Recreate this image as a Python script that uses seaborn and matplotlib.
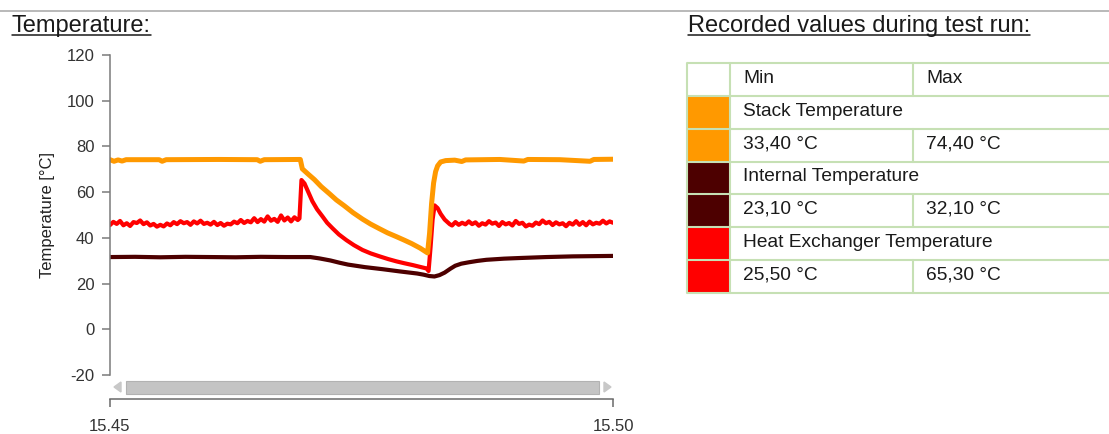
import numpy as np
import pandas as pd
import matplotlib.pyplot as plt
import seaborn as sns
from matplotlib.patches import Rectangle, Polygon
from matplotlib.lines import Line2D

# ─────────────────────────────────────────────
#  Data (time = seconds after 15:45)
# ─────────────────────────────────────────────

stack_time = [0, 2.4, 4.8, 7.2, 9.6, 29.3, 31.1, 33.5, 65.1, 87.8, 89.6, 92.0,
              113.5, 114.7, 118.0, 121.9, 126.0, 130.9, 135.0, 139.8, 145.0, 150.6, 155.5,
              160.7, 165.5, 170.9, 175.5, 179.9, 185.0, 189.4,
              190.6, 191.8, 193.0, 194.2, 195.4, 197.2, 200.2, 205.6, 209.8, 212.1,
              232.5, 246.8, 249.2, 268.3, 286.3, 288.6, 300]
stack_temp = [74.2, 73.5, 74.1, 73.6, 74.2, 74.2, 73.5, 74.2, 74.3, 74.2, 73.5, 74.2,
              74.3, 70.2, 68.0, 65.5, 62.4, 59.3, 56.6, 54.0, 51.0, 48.2, 46.0,
              44.0, 42.2, 40.5, 39.0, 37.5, 35.5, 33.4,
              42.0, 55.0, 64.0, 69.0, 71.5, 73.2, 73.8, 74.0, 73.4, 74.1,
              74.3, 73.6, 74.3, 74.2, 73.5, 74.3, 74.4]

internal_time = [0, 15, 30, 45, 60, 75, 90, 105, 119.5, 125.0, 131.5, 137.0, 142.0, 152.0,
                 162.5, 173.0, 183.2, 187.0, 190.5, 193.5, 196.5, 199.6, 203.0, 205.9,
                 209.5, 213.9, 219.0, 224.5, 235.0, 245.0, 260.0, 276.0, 300]
internal_temp = [31.6, 31.7, 31.5, 31.7, 31.6, 31.5, 31.7, 31.6, 31.6, 31.0, 30.1, 29.1, 28.3, 27.2,
                 26.3, 25.3, 24.4, 23.9, 23.3, 23.1, 23.7, 24.8, 26.5, 27.8,
                 28.7, 29.3, 29.9, 30.4, 30.9, 31.2, 31.6, 31.9, 32.1]

hx_time = [0, 2, 4, 6, 8, 10, 12, 14, 16, 18, 20, 22, 24, 26, 28, 30, 32, 34, 36, 38,
           40, 42, 44, 46, 48, 50, 52, 54, 56, 58, 60, 62, 64, 66, 68, 70, 72, 74, 76, 78,
           80, 82, 84, 86, 88, 90, 92, 94, 96, 98, 100, 102, 104, 106, 108, 110, 112,
           113.0, 114.2, 116.0, 118.0, 120.7, 123.5, 126.7, 129.5, 132.7, 136.5, 141.0,
           145.5, 150.6, 155.5, 160.8, 166.0, 170.9, 175.5, 180.5, 185.0, 188.8, 190.0,
           191.2, 192.4, 193.6, 195.4, 197.2, 199.6, 202.6,
           204, 206, 208, 210, 212, 214, 216, 218, 220, 222, 224, 226, 228, 230, 232,
           234, 236, 238, 240, 242, 244, 246, 248, 250, 252, 254, 256, 258, 260, 262,
           264, 266, 268, 270, 272, 274, 276, 278, 280, 282, 284, 286, 288, 290, 292,
           294, 296, 298, 300]
hx_temp = [45.6, 47.0, 46.1, 47.4, 45.5, 46.4, 45.2, 46.9, 46.5, 47.6,
           46.0, 46.8, 45.4, 46.1, 44.9, 45.7, 45.0, 46.3, 45.5, 46.9,
           46.0, 47.3, 46.4, 46.9, 45.7, 47.2, 46.3, 47.5, 46.1, 46.6,
           45.8, 47.0, 45.6, 46.5, 45.3, 46.2, 45.9, 47.1, 46.4, 47.8,
           46.5, 47.4, 46.8, 48.6, 46.9, 48.2, 47.1, 49.4, 47.5, 48.3,
           47.0, 49.8, 47.6, 48.9, 47.2, 49.0, 47.8,
           48.5, 65.3, 63.8, 60.5, 56.0, 52.5, 49.4, 46.6, 44.2, 41.5, 39.0,
           36.8, 34.7, 33.2, 31.9, 30.7, 29.7, 28.9, 28.1, 27.3, 26.6, 25.5,
           36.0, 48.0, 54.2, 53.0, 50.5, 48.0, 46.0,
           45.4, 46.9, 45.7, 46.6, 45.9, 47.2, 46.0, 46.8, 45.3, 46.4,
           45.8, 47.3, 46.2, 46.7, 45.2, 46.9, 45.9, 46.5, 45.4, 47.4,
           46.1, 46.6, 45.0, 45.8, 45.3, 46.7, 46.0, 47.6, 46.4, 47.0,
           45.6, 46.8, 45.9, 46.4, 45.1, 46.6, 45.8, 47.3, 45.7, 46.9,
           45.5, 47.1, 45.9, 46.6, 46.2, 47.5, 46.3, 47.2, 46.6]

sensor_names  = ["Stack Temperature", "Internal Temperature", "Heat Exchanger Temperature"]
sensor_colors = ["#FF9900", "#4D0000", "#FF0000"]
recorded_min  = [33.40, 23.10, 25.50]
recorded_max  = [74.40, 32.10, 65.30]

y_ticks       = [-20, 0, 20, 40, 60, 80, 100, 120]
x_tick_pos    = [0, 300]
x_tick_labels = ["15.45", "15.50"]

# ─────────────────────────────────────────────
#  Figure
# ─────────────────────────────────────────────

sns.set_theme(style="white")
plt.rcParams["font.family"] = ["Liberation Sans", "DejaVu Sans"]
plt.rcParams["axes.unicode_minus"] = False

W, H = 1109, 434
fig = plt.figure(figsize=(W / 100, H / 100), dpi=100)

def fx(px):
    return px / W

def fy(py):
    return 1 - py / H

frames = [pd.DataFrame({"time": t, "temp": v, "sensor": n})
          for t, v, n in [(stack_time, stack_temp, sensor_names[0]),
                          (internal_time, internal_temp, sensor_names[1]),
                          (hx_time, hx_temp, sensor_names[2])]]
df = pd.concat(frames, ignore_index=True)
palette = dict(zip(sensor_names, sensor_colors))
widths  = {sensor_names[0]: 3.6, sensor_names[1]: 3.0, sensor_names[2]: 3.0}

# ── main line chart ─────────────────────────────
ax = fig.add_axes([fx(110), fy(375), fx(503), 320 / H])
for name in [sensor_names[1], sensor_names[2], sensor_names[0]]:
    sns.lineplot(data=df[df["sensor"] == name], x="time", y="temp",
                 color=palette[name], linewidth=widths[name],
                 estimator=None, legend=False, ax=ax)

ax.set_xlim(0, 300)
ax.set_ylim(-20, 120)
ax.set_yticks(y_ticks)
ax.set_xticks([])
ax.set_xlabel("")
sns.despine(ax=ax, top=True, right=True, bottom=True)
ax.spines["left"].set_color("#7a7a7a")
ax.spines["left"].set_linewidth(1.1)
ax.tick_params(axis="y", direction="out", left=True, length=5.8, width=1.1,
               color="#7a7a7a", labelsize=12, labelcolor="#333333", pad=5.5)
ax.set_ylabel("Temperature [°C]", fontsize=12, color="#222222")
ax.yaxis.set_label_coords(-0.109, 0.5)

# ── scrollbar ───────────────────────────────────
sa = fig.add_axes([fx(110), fy(397), fx(503), 20 / H])
sa.set_xlim(110, 613)
sa.set_ylim(397, 377)
sa.axis("off")
sa.add_patch(Rectangle((126, 380.5), 473, 13.5, facecolor="#c4c4c4", edgecolor="#b2b2b2", lw=0.8))
sa.add_patch(Polygon([(114, 387), (121, 382), (121, 392)], closed=True, color="#c8c8c8"))
sa.add_patch(Polygon([(604, 382), (611, 387), (604, 392)], closed=True, color="#c8c8c8"))

# ── x axis bracket ──────────────────────────────
xa = fig.add_axes([fx(110), fy(399), fx(503), 0.0001])
xa.set_facecolor("none")
xa.set_xlim(0, 300)
xa.set_xticks(x_tick_pos)
xa.set_xticklabels(x_tick_labels)
xa.set_yticks([])
for side in ["top", "left", "right"]:
    xa.spines[side].set_visible(False)
xa.spines["bottom"].set_color("#6a6a6a")
xa.spines["bottom"].set_linewidth(1.1)
xa.tick_params(axis="x", direction="out", bottom=True, length=5.8, width=1.1,
               color="#6a6a6a", labelsize=12, labelcolor="#333333", pad=8.5)

# ── table of recorded values ────────────────────
ta = fig.add_axes([fx(680), fy(300), fx(429), 245 / H])
ta.set_xlim(680, 1109)
ta.set_ylim(300, 55)
ta.axis("off")

row_edges = [62.7, 96, 129, 161.7, 194, 227, 260, 292.7]
grid_col  = "#c6e0b4"

for i, (name, color) in enumerate(zip(sensor_names, sensor_colors)):
    for r in (1 + 2 * i, 2 + 2 * i):
        top, bot = row_edges[r], row_edges[r + 1]
        ta.add_patch(Rectangle((688, top + 1), 41.5, bot - top - 2,
                               facecolor=color, edgecolor="none"))

for y in row_edges:
    ta.plot([687, 1109], [y, y], color=grid_col, lw=1.5, solid_capstyle="butt")
ta.plot([687, 687], [row_edges[0], row_edges[-1]], color=grid_col, lw=1.5)
ta.plot([730, 730], [row_edges[0], row_edges[-1]], color=grid_col, lw=1.5)
for r in (0, 2, 4, 6):
    ta.plot([913, 913], [row_edges[r], row_edges[r + 1]], color=grid_col, lw=1.5)

def mid(r):
    return (row_edges[r] + row_edges[r + 1]) / 2 - 1

txt_kw = dict(fontsize=13.8, color="#1a1a1a", va="center", ha="left")
ta.text(743, mid(0), "Min", **txt_kw)
ta.text(926, mid(0), "Max", **txt_kw)
for i, name in enumerate(sensor_names):
    ta.text(743, mid(1 + 2 * i), name, **txt_kw)
    ta.text(743, mid(2 + 2 * i), f"{recorded_min[i]:.2f}".replace(".", ",") + " °C", **txt_kw)
    ta.text(926, mid(2 + 2 * i), f"{recorded_max[i]:.2f}".replace(".", ",") + " °C", **txt_kw)

# ── headings, underline, separator ──────────────
fig.add_artist(Line2D([0, 1], [fy(10.5), fy(10.5)], color="#a6a6a6", lw=1.1,
                      transform=fig.transFigure))
titles = [fig.text(fx(12), fy(31.7), "Temperature:", fontsize=17, color="#1a1a1a", va="baseline"),
          fig.text(fx(688), fy(31.7), "Recorded values during test run:", fontsize=17,
                   color="#1a1a1a", va="baseline")]
fig.canvas.draw()
for t in titles:
    bb = t.get_window_extent().transformed(fig.transFigure.inverted())
    fig.add_artist(Line2D([bb.x0, bb.x1], [fy(35), fy(35)], color="#1a1a1a", lw=1.1,
                          transform=fig.transFigure))

fig.savefig("out.png", dpi=100)
plt.close()
